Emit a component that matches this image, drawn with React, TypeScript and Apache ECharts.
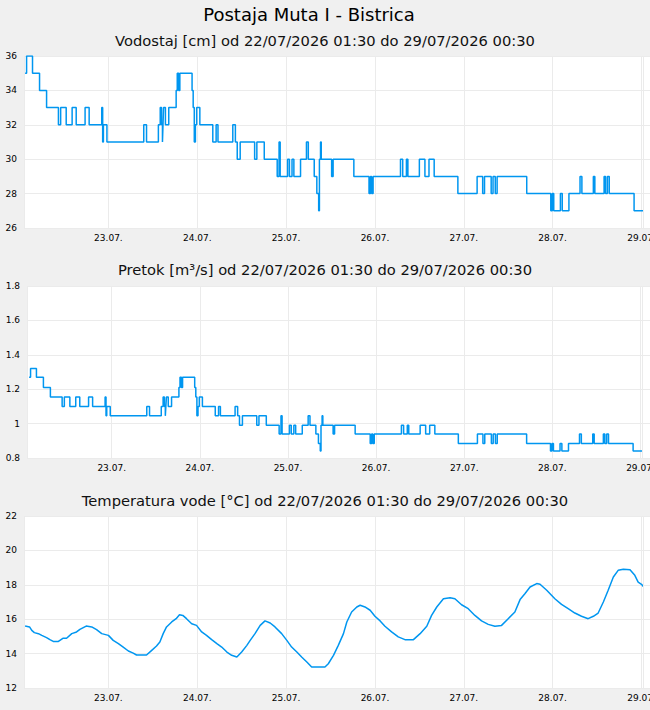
import React, { useEffect, useRef } from "react";
import * as echarts from "echarts";

// ---- texts ----
const chartTitle = "Postaja Muta I - Bistrica";
const panelTitles = [
  "Vodostaj [cm] od 22/07/2026 01:30 do 29/07/2026 00:30",
  "Pretok [m³/s] od 22/07/2026 01:30 do 29/07/2026 00:30",
  "Temperatura vode [°C] od 22/07/2026 01:30 do 29/07/2026 00:30",
];

// ---- data: hours since 22/07/2026 00:00 ----
const startHour = 1.5; // 22/07 01:30
const endHour = 168.5; // 29/07 00:30

// Water level / discharge: the value holds from each change hour on
const changeHours = [
  1.5, 1.9, 3.5, 5.4, 7.3, 10.5, 11.1, 12.6, 14.2, 15.3,
  17.7, 18.8, 22.2, 22.45, 22.65, 23.6, 33.55, 34.3, 37.5, 38.0,
  38.35, 38.6, 38.75, 38.9, 39.4, 40.3, 42.3, 42.6, 43.0, 43.3,
  46.6, 46.9, 47.2, 47.5, 47.85, 48.7, 52.2, 53.1, 53.6, 57.6,
  58.3, 58.8, 59.6, 63.5, 64.1, 66.1, 69.6, 70.1, 70.4, 72.4,
  72.9, 73.6, 74.1, 75.9, 77.5, 78.0, 79.6, 80.3, 80.8, 81.0,
  81.3, 81.5, 84.3, 84.7, 90.3, 94.4, 94.8, 95.1, 95.5, 102.9,
  103.5, 104.5, 104.9, 108.0, 109.5, 110.6, 112.0, 118.4, 123.6, 125.1,
  125.6, 127.4, 127.9, 128.5, 129.0, 137.0, 143.5, 143.9, 144.3, 146.1,
  146.6, 148.4, 151.4, 151.9, 155.0, 155.4, 157.9, 158.3, 158.8, 159.3,
  166.0,
];
const levelCm = [
  35, 36, 35, 34, 33, 32, 33, 32, 33, 32,
  33, 32, 33, 31, 32, 31, 32, 31, 32, 33,
  32, 31, 32, 33, 32, 33, 34, 35, 34, 35,
  34, 33, 31, 32, 33, 32, 31, 32, 31, 32,
  31, 30, 31, 30, 31, 30, 29, 31, 29, 30,
  29, 30, 29, 30, 31, 30, 29, 28, 27, 30,
  31, 30, 29, 30, 29, 28, 29, 28, 29, 30,
  29, 30, 29, 30, 29, 30, 29, 28, 29, 28,
  29, 28, 29, 28, 29, 28, 27, 28, 27, 28,
  27, 28, 29, 28, 29, 28, 29, 28, 29, 28,
  27,
];
const flowM3s = [
  1.27, 1.32, 1.27, 1.21, 1.155, 1.1, 1.155, 1.1, 1.155, 1.1,
  1.155, 1.1, 1.155, 1.045, 1.1, 1.045, 1.1, 1.045, 1.1, 1.155,
  1.1, 1.045, 1.1, 1.155, 1.1, 1.155, 1.21, 1.27, 1.21, 1.27,
  1.21, 1.155, 1.045, 1.1, 1.155, 1.1, 1.045, 1.1, 1.045, 1.1,
  1.045, 0.99, 1.045, 0.99, 1.045, 0.99, 0.94, 1.045, 0.94, 0.99,
  0.94, 0.99, 0.94, 0.99, 1.045, 0.99, 0.94, 0.885, 0.84, 0.99,
  1.045, 0.99, 0.94, 0.99, 0.94, 0.885, 0.94, 0.885, 0.94, 0.99,
  0.94, 0.99, 0.94, 0.99, 0.94, 0.99, 0.94, 0.885, 0.94, 0.885,
  0.94, 0.885, 0.94, 0.885, 0.94, 0.885, 0.84, 0.885, 0.84, 0.885,
  0.84, 0.885, 0.94, 0.885, 0.94, 0.885, 0.94, 0.885, 0.94, 0.885,
  0.84,
];

// Water temperature samples
const tempHours = [
  1.5, 2.7, 3.3, 4.0, 5.1, 6.0, 7.3, 8.2, 9.1, 10.5,
  11.7, 12.7, 14.1, 15.4, 16.3, 18.0, 19.5, 20.8, 22.2, 24.0,
  25.3, 26.7, 28.0, 29.4, 30.7, 31.6, 34.3, 35.7, 37.0, 37.9,
  38.8, 39.7, 41.1, 42.3, 43.2, 44.1, 45.1, 46.5, 47.8, 49.2,
  50.5, 51.9, 53.3, 54.6, 56.0, 57.3, 58.7, 60.0, 61.4, 62.3,
  63.6, 65.0, 66.3, 67.7, 69.0, 70.8, 72.2, 73.5, 74.9, 76.2,
  77.6, 78.9, 82.5, 83.4, 84.8, 86.1, 87.5, 88.4, 89.7, 91.1,
  92.0, 93.3, 94.7, 96.0, 97.4, 98.7, 100.5, 102.3, 104.1, 106.4,
  108.2, 110.0, 111.3, 112.7, 114.5, 116.3, 117.6, 119.4, 121.2, 123.0,
  124.8, 126.6, 128.4, 130.2, 132.0, 133.8, 135.2, 136.5, 137.9, 139.7,
  140.6, 142.4, 144.6, 146.4, 148.2, 150.0, 151.8, 153.6, 155.0, 156.3,
  157.7, 159.0, 160.4, 161.7, 163.1, 164.9, 166.2, 167.1, 168.0, 168.5,
];
const tempC = [
  15.6, 15.55, 15.35, 15.22, 15.16, 15.06, 14.93, 14.81, 14.71, 14.71,
  14.89, 14.89, 15.16, 15.26, 15.41, 15.6, 15.55, 15.39, 15.16, 15.06,
  14.77, 14.58, 14.38, 14.15, 14.03, 13.92, 13.92, 14.19, 14.44, 14.67,
  15.16, 15.55, 15.84, 16.03, 16.26, 16.22, 16.03, 15.74, 15.64, 15.26,
  15.06, 14.81, 14.58, 14.38, 14.09, 13.9, 13.8, 14.09, 14.48, 14.77,
  15.16, 15.64, 15.9, 15.78, 15.55, 15.16, 14.77, 14.38, 14.09, 13.8,
  13.51, 13.22, 13.22, 13.41, 13.9, 14.48, 15.16, 15.84, 16.42, 16.71,
  16.81, 16.71, 16.52, 16.17, 15.9, 15.59, 15.26, 14.97, 14.81, 14.81,
  15.16, 15.59, 16.22, 16.71, 17.19, 17.25, 17.19, 16.84, 16.61, 16.22,
  15.9, 15.7, 15.59, 15.64, 16.03, 16.42, 17.14, 17.48, 17.87, 18.07,
  18.03, 17.68, 17.19, 16.86, 16.61, 16.36, 16.17, 16.03, 16.17, 16.36,
  17.0, 17.68, 18.45, 18.84, 18.9, 18.88, 18.55, 18.16, 18.03, 17.9,
];

// y-axis ranges
const yRanges = [
  { min: 26, max: 36, interval: 2 },
  { min: 0.8, max: 1.8, interval: 0.2 },
  { min: 12, max: 22, interval: 2 },
];

const BASE = new Date(2026, 6, 22, 0, 0, 0).getTime();
const HOUR = 3600 * 1000;
const toTime = (h: number) => BASE + h * HOUR;

const pad = (n: number) => (n < 10 ? "0" + n : "" + n);

export default function App() {
  const ref = useRef<HTMLDivElement>(null);

  useEffect(() => {
    if (!ref.current) return;
    const chart = echarts.init(ref.current, undefined, { renderer: "svg" });

    const levelData = changeHours.map((h, i) => [toTime(h), levelCm[i]]);
    levelData.push([toTime(endHour), levelCm[levelCm.length - 1]]);
    const flowData = changeHours.map((h, i) => [toTime(h), flowM3s[i]]);
    flowData.push([toTime(endHour), flowM3s[flowM3s.length - 1]]);
    const tempData = tempHours.map((h, i) => [toTime(h), tempC[i]]);

    const font = "DejaVu Sans";
    const gridColor = "#ebebeb";
    const lineColor = "#0096f0";

    const grids = [
      { left: 24, top: 56, right: 0, height: 172 },
      { left: 27, top: 286, right: 0, height: 172 },
      { left: 24, top: 516, right: 0, height: 172 },
    ];
    const xRanges = [
      [1.2, 170.3],
      [0.93, 170.6],
      [1.2, 170.3],
    ];

    const xAxis = grids.map((_, i) => ({
      type: "time",
      gridIndex: i,
      min: toTime(xRanges[i][0]),
      max: toTime(xRanges[i][1]),
      minInterval: 24 * HOUR,
      maxInterval: 24 * HOUR,
      axisLine: { show: false },
      axisTick: { show: false },
      splitLine: { show: true, lineStyle: { color: gridColor, width: 1 } },
      axisLabel: {
        fontSize: 9,
        fontFamily: font,
        color: "#000",
        margin: 5,
        hideOverlap: false,
        formatter: (v: number) => {
          const d = new Date(v);
          return pad(d.getDate()) + "." + pad(d.getMonth() + 1) + ".";
        },
      },
    }));

    const yAxis = yRanges.map((r, i) => ({
      type: "value",
      gridIndex: i,
      min: r.min,
      max: r.max,
      interval: r.interval,
      axisLine: { show: false },
      axisTick: { show: false },
      splitLine: { show: true, lineStyle: { color: gridColor, width: 1 } },
      axisLabel: { fontSize: 9, fontFamily: font, color: "#000", margin: 7 },
    }));

    const endMark = {
      silent: true,
      symbol: "none",
      label: { show: false },
      lineStyle: { color: gridColor, type: "solid", width: 1 },
      data: [{ xAxis: toTime(endHour) }],
    };

    const datasets = [levelData, flowData, tempData];
    const series = datasets.map((data, i) => ({
      type: "line",
      xAxisIndex: i,
      yAxisIndex: i,
      data,
      step: i < 2 ? "end" : undefined,
      showSymbol: false,
      symbol: "none",
      lineStyle: { color: lineColor, width: 1.5 },
      itemStyle: { color: lineColor },
      markLine: endMark,
    }));

    const titleY = [40, 269, 500];
    const graphic = [
      {
        type: "text",
        x: 309,
        y: 14,
        style: {
          text: chartTitle,
          fontSize: 18,
          fontFamily: font,
          fill: "#000",
          textAlign: "center",
          textVerticalAlign: "middle",
        },
      },
      ...panelTitles.map((t, i) => ({
        type: "text",
        x: 325,
        y: titleY[i],
        style: {
          text: t,
          fontSize: 14.7,
          fontFamily: font,
          fill: "#111",
          textAlign: "center",
          textVerticalAlign: "middle",
        },
      })),
    ];

    chart.setOption({
      animation: false,
      backgroundColor: "#f0f0f0",
      grid: grids.map((g) => ({
        ...g,
        show: true,
        backgroundColor: "#ffffff",
        borderWidth: 0,
        containLabel: false,
        outerBoundsMode: "none",
      })),
      xAxis,
      yAxis,
      series,
      graphic,
    } as any);

    return () => chart.dispose();
  }, []);

  return (
    <div
      ref={ref}
      style={{ position: "fixed", left: 0, top: 0, width: 650, height: 710 }}
    />
  );
}
